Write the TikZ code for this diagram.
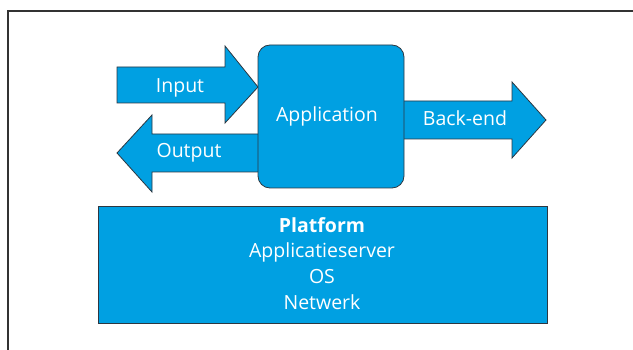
\documentclass[tikz,border=0pt]{standalone}
\usepackage{fontspec}
\setmainfont{Open Sans}
\definecolor{appblue}{RGB}{0,160,226}
\definecolor{edge}{RGB}{45,55,65}
\begin{document}
\begin{tikzpicture}[x=1pt,y=-1pt,
  blockarrow/.style={fill=appblue,draw=edge,line width=0.8pt,line join=miter},
  label/.style={text=white,font=\fontsize{19.5}{23}\selectfont,inner sep=0pt,anchor=base},
  frame/.style={draw=black!80,line width=1.3pt}]
  \useasboundingbox (0,0) rectangle (633,350);
  % outer frame (top and left edges)
  \draw[frame] (8,350) -- (8,11) -- (633,11);
  % Input arrow
  \draw[blockarrow] (117,67) -- (225,67) -- (225,46) -- (258,87) -- (225,123)
    -- (225,103) -- (117,103) -- cycle;
  % Output arrow
  \draw[blockarrow] (262,134) -- (152,134) -- (152,115) -- (117,153) -- (152,192)
    -- (152,172) -- (262,172) -- cycle;
  % Back-end arrow
  \draw[blockarrow] (400,101) -- (512,101) -- (512,82) -- (546,120) -- (512,158)
    -- (512,139) -- (400,139) -- cycle;
  % Application block
  \node[fill=appblue,draw=edge,line width=0.8pt,rounded corners=12pt,
        minimum width=146pt,minimum height=143pt,inner sep=0pt]
        (app) at (331,116.5) {};
  % Platform block
  \node[fill=appblue,draw=edge,line width=0.8pt,
        minimum width=449pt,minimum height=117pt,inner sep=0pt]
        (platform) at (322.5,264.5) {};
  % labels (placed on their baselines)
  \node[label] (in) at (180,93) {Input};
  \node[label] (out) at (189,158) {Output};
  \node[label] (applbl) at (327,122) {Application};
  \node[label] (be) at (465,126) {Back-end};
  \node[label] (p1) at (322,233) {\bfseries Platform};
  \node[label] (p2) at (322,258) {Applicatieserver};
  \node[label] (p3) at (322,284) {OS};
  \node[label] (p4) at (322,309) {Netwerk};
\end{tikzpicture}
\end{document}
